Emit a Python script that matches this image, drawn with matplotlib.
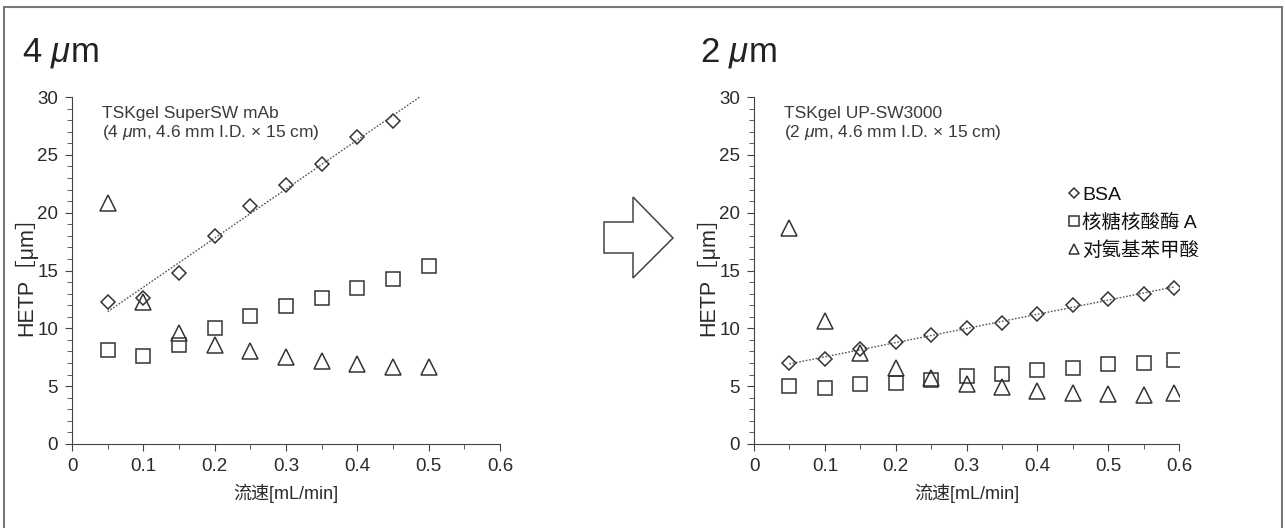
import numpy as np
import matplotlib.pyplot as plt
from matplotlib.patches import Polygon, Rectangle

plt.rcParams['font.family'] = ['Liberation Sans', 'Noto Sans CJK SC', 'DejaVu Sans']
plt.rcParams['mathtext.fontset'] = 'custom'
plt.rcParams['mathtext.rm'] = 'Liberation Sans'
plt.rcParams['mathtext.it'] = 'Liberation Sans:italic'

# 4 um column (TSKgel SuperSW mAb)
flow4 = [0.05, 0.10, 0.15, 0.20, 0.25, 0.30, 0.35, 0.40, 0.45, 0.50]
bsa4 = [12.3, 12.6, 14.8, 18.0, 20.6, 22.4, 24.2, 26.5, 27.9]
rnase4 = [8.1, 7.6, 8.55, 10.0, 11.1, 11.9, 12.6, 13.5, 14.25, 15.4]
paba4 = [20.8, 12.3, 9.6, 8.6, 8.0, 7.5, 7.2, 6.9, 6.7, 6.7]

# 2 um column (TSKgel UP-SW3000)
flow2 = [0.05, 0.10, 0.15, 0.20, 0.25, 0.30, 0.35, 0.40, 0.45, 0.50, 0.55, 0.593]
bsa2 = [7.0, 7.35, 8.2, 8.8, 9.4, 10.0, 10.5, 11.2, 12.0, 12.5, 13.0, 13.5]
rnase2 = [5.04, 4.8, 5.2, 5.3, 5.5, 5.9, 6.05, 6.4, 6.6, 6.9, 7.0, 7.3]
paba2 = [18.7, 10.6, 7.9, 6.6, 5.7, 5.2, 4.9, 4.6, 4.4, 4.3, 4.2, 4.4]

labels = ['BSA', '核糖核酸酶 A', '对氨基苯甲酸']
fit_range4 = [0.05, 0.49]
fit_range2 = [0.05, 0.593]

ink = '#333333'
W, H = 1285, 528
fig = plt.figure(figsize=(W / 100, H / 100), dpi=100)

# outer frame
fig.patches.append(Rectangle((4 / W, -0.05), (1282 - 4) / W, 1.05 - 7 / H,
                             transform=fig.transFigure, fill=False,
                             edgecolor='#777777', linewidth=1.5))

def panel(left, right, title, note, flow, bsa, rnase, paba, fit_range, title_x):
    ax = fig.add_axes([left / W, 1 - 444 / H, (right - left) / W, (444 - 97) / H])
    mk = dict(linestyle='none', markerfacecolor='none', markeredgecolor=ink,
              markeredgewidth=1.1)
    hb, = ax.plot(flow[:len(bsa)], bsa, marker='D', markersize=7.5, label=labels[0], **mk)
    hr, = ax.plot(flow, rnase, marker='s', markersize=10, label=labels[1], **mk)
    hp, = ax.plot(flow, paba, marker='^', markersize=11, label=labels[2], **mk)
    k, b = np.polyfit(flow[:len(bsa)], bsa, 1)
    xs = np.array(fit_range)
    ax.plot(xs, k * xs + b, linestyle=(0, (1.2, 1.2)), color='#555555', linewidth=1)

    ax.set_xlim(0, 0.6)
    ax.set_ylim(0, 30)
    ax.set_xticks(np.arange(0, 0.61, 0.1))
    ax.set_xticklabels(['0', '0.1', '0.2', '0.3', '0.4', '0.5', '0.6'])
    ax.set_xticks(np.arange(0.05, 0.6, 0.1), minor=True)
    ax.set_yticks(np.arange(0, 31, 5))
    ax.set_yticks(np.arange(0, 31, 1), minor=True)
    for s in ['top', 'right']:
        ax.spines[s].set_visible(False)
    for s in ['left', 'bottom']:
        ax.spines[s].set_color('#444444')
    ax.tick_params(which='major', length=5, color='#444444', labelsize=13.5,
                   labelcolor='#2a2a2a', pad=5)
    ax.tick_params(which='minor', length=3.5, color='#444444')
    ax.set_xlabel('流速[mL/min]', fontsize=13, color='#2a2a2a', labelpad=6)
    ax.set_ylabel('HETP［μm］', fontsize=15.5, color='#2a2a2a', labelpad=0)
    ax.text(0.07, 0.975, note, transform=ax.transAxes, fontsize=12.5,
            color='#3a3a3a', va='top', linespacing=1.2)
    fig.text(title_x / W, 1 - 53 / H, title, fontsize=25, color='#222222', va='center')
    return ax, (hb, hr, hp)

panel(72, 500, r'4 $\mu$m', 'TSKgel SuperSW mAb\n(4 $\\mu$m, 4.6 mm I.D. $\\times$ 15 cm)',
      flow4, bsa4, rnase4, paba4, fit_range4, 22)
ax2, handles = panel(754, 1179, r'2 $\mu$m', 'TSKgel UP-SW3000\n(2 $\\mu$m, 4.6 mm I.D. $\\times$ 15 cm)',
                     flow2, bsa2, rnase2, paba2, fit_range2, 700)

leg = ax2.legend(handles=handles, loc='upper left', bbox_to_anchor=(0.72, 0.765),
                 frameon=False, fontsize=14, markerscale=0.65, handlelength=0.6,
                 handletextpad=0.15, labelspacing=0.5, borderaxespad=0)
for t in leg.get_texts():
    t.set_color('#111111')

# arrow between panels
arrow_px = [(604, 222), (633, 222), (633, 197), (673, 238), (633, 278), (633, 253), (604, 253)]
fig.patches.append(Polygon([(x / W, 1 - y / H) for x, y in arrow_px], closed=True,
                           transform=fig.transFigure, fill=False,
                           edgecolor='#444444', linewidth=1.1))

fig.savefig('out.png', dpi=100)
